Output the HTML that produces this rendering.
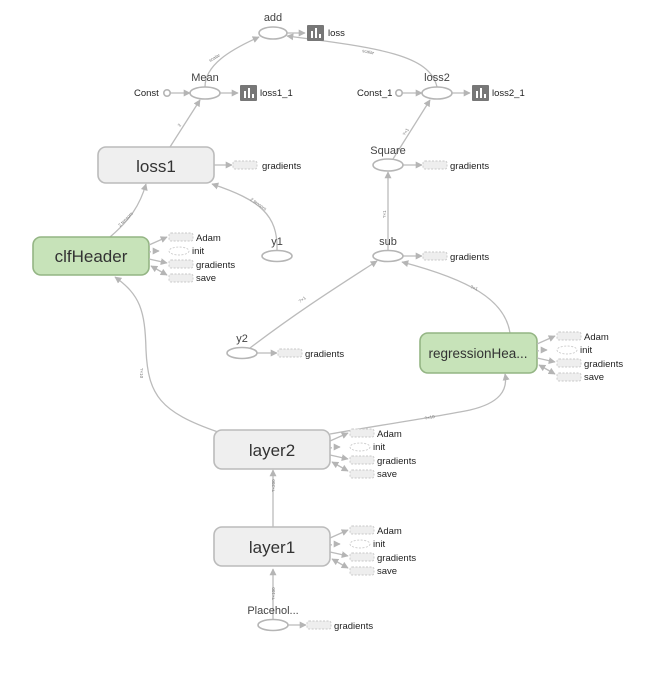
<!DOCTYPE html>
<html><head><meta charset="utf-8"><style>
html,body{margin:0;padding:0;background:#fff;}
svg{display:block;font-family:"Liberation Sans",sans-serif;}
.e{fill:#fff;stroke:#b5b5b5;stroke-width:1.6}
.ln{fill:none;stroke:#bbb;stroke-width:1.3}
.sm{font-size:9.5px;fill:#222}
.lb{font-size:11px;fill:#444;text-anchor:middle}
.big{font-size:17px;fill:#333;text-anchor:middle}
.dr{fill:#eee;stroke:#c8c8c8;stroke-width:0.9;stroke-dasharray:2,1.5}
.tiny{font-size:4.5px;fill:#777}
</style></head><body>
<svg width="666" height="679" viewBox="0 0 666 679">
<defs>
<marker id="a" viewBox="0 0 10 10" refX="9" refY="5" markerWidth="7" markerHeight="7" orient="auto-start-reverse" markerUnits="userSpaceOnUse"><path d="M0,0L10,5L0,10z" fill="#b5b5b5"/></marker>
<g id="ic"><rect width="17" height="16" fill="#777" rx="1"/><rect x="4" y="6" width="2" height="7" fill="#fff"/><rect x="8" y="3" width="2" height="10" fill="#fff"/><rect x="12" y="9" width="2" height="4" fill="#fff"/></g>
<g id="sg">
<path class="ln" d="M0,4 L18,-4" marker-end="url(#a)"/>
<path class="ln" d="M0,11 L8,10" stroke-dasharray="2,2"/><path class="ln" d="M8,10 L10,10" marker-end="url(#a)"/>
<path class="ln" d="M0,18 L18,22" marker-end="url(#a)"/>
<path class="ln" d="M2,25 L18,34" marker-start="url(#a)" marker-end="url(#a)"/>
<rect class="dr" x="20" y="-8" width="24" height="8" rx="2"/><text class="sm" x="47" y="0">Adam</text>
<ellipse cx="30" cy="10" rx="10" ry="4" fill="none" stroke="#ccc" stroke-width="0.9" stroke-dasharray="2,1.5"/><text class="sm" x="43" y="13">init</text>
<rect class="dr" x="20" y="19" width="24" height="8" rx="2"/><text class="sm" x="47" y="27">gradients</text>
<rect class="dr" x="20" y="33" width="24" height="8" rx="2"/><text class="sm" x="47" y="40">save</text>
</g>
</defs>

<!-- main edges -->
<path class="ln" d="M273,619 V569" marker-end="url(#a)"/>
<path class="ln" d="M273,527 V470" marker-end="url(#a)"/>
<path class="ln" d="M218,432 C160,412 148,395 146,350 C145,310 140,295 115,277" marker-end="url(#a)"/>
<path class="ln" d="M330,434 C380,425 430,418 470,410 C500,403 508,390 505,374" marker-end="url(#a)"/>
<path class="ln" d="M510,333 C505,300 470,280 402,262" marker-end="url(#a)"/>
<path class="ln" d="M250,348 C300,310 340,285 377,261" marker-end="url(#a)"/>
<path class="ln" d="M388,250 V172" marker-end="url(#a)"/>
<path class="ln" d="M393,159 L430,100" marker-end="url(#a)"/>
<path class="ln" d="M437,87 C430,55 380,48 287,36" marker-end="url(#a)"/>
<path class="ln" d="M170,147 L200,100" marker-end="url(#a)"/>
<path class="ln" d="M205,87 C205,65 230,50 259,37" marker-end="url(#a)"/>
<path class="ln" d="M110,237 C130,220 140,205 146,184" marker-end="url(#a)"/>
<path class="ln" d="M277,250 C278,215 260,200 212,184" marker-end="url(#a)"/>
<path class="ln" d="M287,33 H305" marker-end="url(#a)"/>
<path class="ln" d="M220,93 H238" marker-end="url(#a)"/>
<path class="ln" d="M452,93 H470" marker-end="url(#a)"/>
<path class="ln" d="M170,93 H190" marker-end="url(#a)"/>
<path class="ln" d="M402,93 H422" marker-end="url(#a)"/>
<path class="ln" d="M214,165 H232" marker-end="url(#a)"/>
<path class="ln" d="M403,165 H422" marker-end="url(#a)"/>
<path class="ln" d="M403,256 H422" marker-end="url(#a)"/>
<path class="ln" d="M257,353 H277" marker-end="url(#a)"/>
<path class="ln" d="M288,625 H306" marker-end="url(#a)"/>

<!-- edge labels -->
<text class="tiny" transform="translate(210,62) rotate(-30)">scalar</text>
<text class="tiny" transform="translate(362,52) rotate(12)">scalar</text>
<text class="tiny" transform="translate(180,127) rotate(-58)">2</text>
<text class="tiny" transform="translate(405,136) rotate(-58)">?×1</text>
<text class="tiny" transform="translate(120,227) rotate(-45)">2 tensors</text>
<text class="tiny" transform="translate(250,200) rotate(35)">2 tensors</text>
<text class="tiny" transform="translate(386,218) rotate(-90)">?×1</text>
<text class="tiny" transform="translate(300,303) rotate(-35)">?×1</text>
<text class="tiny" transform="translate(470,288) rotate(20)">?×1</text>
<text class="tiny" transform="translate(140,368) rotate(90)">?×10</text>
<text class="tiny" transform="translate(425,420) rotate(-12)">?×10</text>
<text class="tiny" transform="translate(275,492) rotate(-90)">?×200</text>
<text class="tiny" transform="translate(275,600) rotate(-90)">?×100</text>

<!-- top nodes -->
<ellipse class="e" cx="273" cy="33" rx="14" ry="6"/><text class="lb" x="273" y="21">add</text>
<use href="#ic" x="307" y="25"/><text class="sm" x="328" y="36">loss</text>
<ellipse class="e" cx="205" cy="93" rx="15" ry="6"/><text class="lb" x="205" y="81">Mean</text>
<text class="sm" x="134" y="96">Const</text><circle class="e" cx="167" cy="93" r="3.2"/>
<use href="#ic" x="240" y="85"/><text class="sm" x="260" y="96">loss1_1</text>
<ellipse class="e" cx="437" cy="93" rx="15" ry="6"/><text class="lb" x="437" y="81">loss2</text>
<text class="sm" x="357" y="96">Const_1</text><circle class="e" cx="399" cy="93" r="3.2"/>
<use href="#ic" x="472" y="85"/><text class="sm" x="492" y="96">loss2_1</text>

<!-- loss1 -->
<rect x="98" y="147" width="116" height="36" rx="8" fill="#efefef" stroke="#bbb" stroke-width="1.6"/>
<text class="big" x="156" y="172">loss1</text>
<rect class="dr" x="233" y="161" width="24" height="8" rx="2"/><text class="sm" x="262" y="169">gradients</text>

<!-- Square -->
<ellipse class="e" cx="388" cy="165" rx="15" ry="6"/><text class="lb" x="388" y="154">Square</text>
<rect class="dr" x="423" y="161" width="24" height="8" rx="2"/><text class="sm" x="450" y="169">gradients</text>

<!-- clfHeader -->
<rect x="33" y="237" width="116" height="38" rx="8" fill="#c7e3b9" stroke="#94b584" stroke-width="1.6"/>
<text class="big" x="91" y="262">clfHeader</text>

<!-- y1, sub, y2 -->
<ellipse class="e" cx="277" cy="256" rx="15" ry="5.5"/><text class="lb" x="277" y="245">y1</text>
<ellipse class="e" cx="388" cy="256" rx="15" ry="5.5"/><text class="lb" x="388" y="245">sub</text>
<rect class="dr" x="423" y="252" width="24" height="8" rx="2"/><text class="sm" x="450" y="260">gradients</text>
<ellipse class="e" cx="242" cy="353" rx="15" ry="5.5"/><text class="lb" x="242" y="342">y2</text>
<rect class="dr" x="278" y="349" width="24" height="8" rx="2"/><text class="sm" x="305" y="357">gradients</text>

<!-- regression head -->
<rect x="420" y="333" width="117" height="40" rx="8" fill="#c7e3b9" stroke="#94b584" stroke-width="1.6"/>
<text x="478" y="358" font-size="13.5" fill="#333" text-anchor="middle">regressionHea...</text>

<!-- layer2 / layer1 -->
<rect x="214" y="430" width="116" height="39" rx="8" fill="#efefef" stroke="#bbb" stroke-width="1.6"/>
<text class="big" x="272" y="456">layer2</text>
<rect x="214" y="527" width="116" height="39" rx="8" fill="#efefef" stroke="#bbb" stroke-width="1.6"/>
<text class="big" x="272" y="553">layer1</text>

<!-- placeholder -->
<text class="lb" x="273" y="614">Placehol...</text>
<ellipse class="e" cx="273" cy="625" rx="15" ry="5.5"/>
<rect class="dr" x="307" y="621" width="24" height="8" rx="2"/><text class="sm" x="334" y="629">gradients</text>

<!-- side groups -->
<use href="#sg" x="149" y="241"/>
<use href="#sg" x="537" y="340"/>
<use href="#sg" x="330" y="437"/>
<use href="#sg" x="330" y="534"/>
</svg>
</body></html>
